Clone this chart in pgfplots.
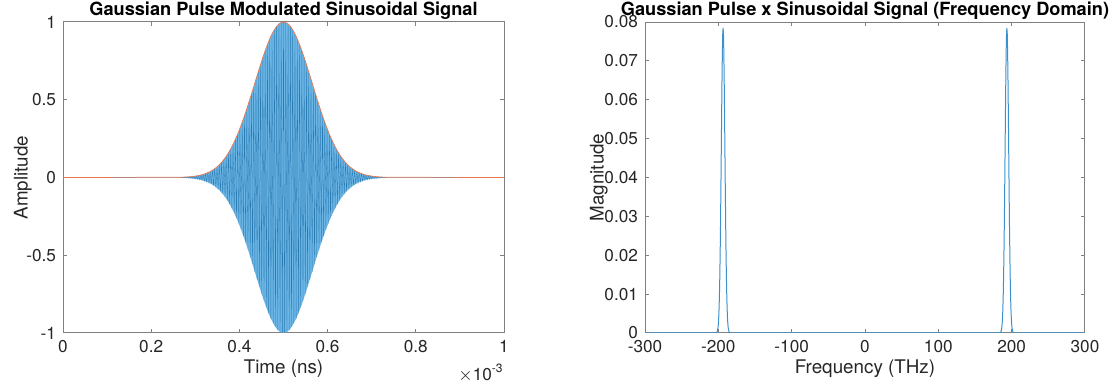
\documentclass[border=0pt]{standalone}
\usepackage{fontspec}
\setmainfont{TeX Gyre Heros}
\usepackage{pgfplots}
\usepackage{pgfplotstable}
\usepgfplotslibrary{fillbetween}
\pgfplotsset{compat=1.18}
\definecolor{mblue}{RGB}{40,122,178}
\definecolor{fblue}{RGB}{108,182,230}
\definecolor{lblue}{RGB}{60,145,205}
\definecolor{morange}{RGB}{230,120,80}
\definecolor{axgray}{RGB}{128,128,128}
\definecolor{txtgray}{RGB}{38,38,38}
\pgfplotsset{
  every axis title shift=0pt,
  mstyle/.style={
    scale only axis,
    scaled x ticks=false, scaled y ticks=false,
    axis line style={axgray, line width=0.5pt},
    tick style={axgray, line width=0.5pt},
    major tick length=2.2pt,
    tick align=inside,
    xtick pos=both, ytick pos=both,
    tick label style={font=\fontsize{8.6}{10}\selectfont, text=txtgray},
    label style={font=\fontsize{9.4}{11}\selectfont, text=txtgray},
    title style={font=\bfseries\fontsize{9.1}{11}\selectfont, at={(0.5,1)}, anchor=south, inner sep=1pt},
    xlabel style={at={(0.5,0)}, anchor=north, yshift=-13pt, inner sep=0pt},
    ylabel style={at={(0,0.5)}, anchor=south, inner sep=0pt},
  }
}
\pgfplotstableread{
t env
0 0
0.266 0.0015
0.2712 0.0021
0.2764 0.0027
0.2816 0.0036
0.2868 0.0047
0.292 0.0060
0.2972 0.0078
0.3024 0.0099
0.3076 0.0126
0.3128 0.0159
0.318 0.0200
0.3232 0.0249
0.3284 0.0308
0.3336 0.0380
0.3388 0.0464
0.344 0.0564
0.3492 0.0681
0.3544 0.0817
0.3596 0.0974
0.3648 0.1154
0.37 0.1358
0.3752 0.1588
0.3804 0.1845
0.3856 0.2130
0.3908 0.2444
0.396 0.2786
0.4012 0.3156
0.4064 0.3552
0.4116 0.3972
0.4168 0.4414
0.422 0.4873
0.4272 0.5347
0.4324 0.5828
0.4376 0.6312
0.4428 0.6793
0.448 0.7265
0.4532 0.7720
0.4584 0.8151
0.4636 0.8551
0.4688 0.8914
0.474 0.9232
0.4792 0.9502
0.4844 0.9717
0.4896 0.9873
0.4948 0.9968
0.5 1.0000
0.5052 0.9968
0.5104 0.9873
0.5156 0.9717
0.5208 0.9502
0.526 0.9232
0.5312 0.8914
0.5364 0.8551
0.5416 0.8151
0.5468 0.7720
0.552 0.7265
0.5572 0.6793
0.5624 0.6312
0.5676 0.5828
0.5728 0.5347
0.578 0.4873
0.5832 0.4414
0.5884 0.3972
0.5936 0.3552
0.5988 0.3156
0.604 0.2786
0.6092 0.2444
0.6144 0.2130
0.6196 0.1845
0.6248 0.1588
0.63 0.1358
0.6352 0.1154
0.6404 0.0974
0.6456 0.0817
0.6508 0.0681
0.656 0.0564
0.6612 0.0464
0.6664 0.0380
0.6716 0.0308
0.6768 0.0249
0.682 0.0200
0.6872 0.0159
0.6924 0.0126
0.6976 0.0099
0.7028 0.0078
0.708 0.0060
0.7132 0.0047
0.7184 0.0036
0.7236 0.0027
0.7288 0.0021
0.734 0.0015
1 0
}\envtable
\begin{document}
\begin{tikzpicture}
\begin{axis}[mstyle, name=leftax,
  at={(31.5pt,28.5pt)}, anchor=south west,
  width=220.5pt, height=155.5pt,
  xmin=0, xmax=1, ymin=-1, ymax=1,
  xtick={0,0.2,0.4,0.6,0.8,1}, xticklabels={0,0.2,0.4,0.6,0.8,1},
  ytick={-1,-0.5,0,0.5,1}, yticklabels={-1,-0.5,0,0.5,1},
  title={Gaussian Pulse Modulated Sinusoidal Signal},
  xlabel={Time (ns)}, ylabel={Amplitude},
  ylabel style={yshift=15.5pt},
]
\addplot[name path=up, draw=none, forget plot] table[x=t, y=env] {\envtable};
\addplot[name path=lo, draw=none, forget plot] table[x=t, y expr=-\thisrow{env}] {\envtable};
\addplot[fblue, draw=none] fill between[of=up and lo];
\addplot[mblue, line width=0.15pt] table {
0 0
0.266 0.0015
0.2686 -0.0018
0.2712 0.0021
0.2738 -0.0024
0.2764 0.0027
0.279 -0.0031
0.2816 0.0036
0.2842 -0.0041
0.2868 0.0047
0.2894 -0.0053
0.292 0.0060
0.2946 -0.0068
0.2972 0.0078
0.2998 -0.0088
0.3024 0.0099
0.305 -0.0112
0.3076 0.0126
0.3102 -0.0142
0.3128 0.0159
0.3154 -0.0178
0.318 0.0200
0.3206 -0.0223
0.3232 0.0249
0.3258 -0.0277
0.3284 0.0308
0.331 -0.0342
0.3336 0.0380
0.3362 -0.0420
0.3388 0.0464
0.3414 -0.0512
0.344 0.0564
0.3466 -0.0620
0.3492 0.0681
0.3518 -0.0746
0.3544 0.0817
0.357 -0.0893
0.3596 0.0974
0.3622 -0.1061
0.3648 0.1154
0.3674 -0.1253
0.37 0.1358
0.3726 -0.1469
0.3752 0.1588
0.3778 -0.1713
0.3804 0.1845
0.383 -0.1984
0.3856 0.2130
0.3882 -0.2284
0.3908 0.2444
0.3934 -0.2612
0.396 0.2786
0.3986 -0.2968
0.4012 0.3156
0.4038 -0.3351
0.4064 0.3552
0.409 -0.3759
0.4116 0.3972
0.4142 -0.4190
0.4168 0.4414
0.4194 -0.4641
0.422 0.4873
0.4246 -0.5108
0.4272 0.5347
0.4298 -0.5587
0.4324 0.5828
0.435 -0.6070
0.4376 0.6312
0.4402 -0.6553
0.4428 0.6793
0.4454 -0.7031
0.448 0.7265
0.4506 -0.7496
0.4532 0.7720
0.4558 -0.7939
0.4584 0.8151
0.461 -0.8355
0.4636 0.8551
0.4662 -0.8737
0.4688 0.8914
0.4714 -0.9079
0.474 0.9232
0.4766 -0.9374
0.4792 0.9502
0.4818 -0.9616
0.4844 0.9717
0.487 -0.9802
0.4896 0.9873
0.4922 -0.9928
0.4948 0.9968
0.4974 -0.9992
0.5 1.0000
0.5026 -0.9992
0.5052 0.9968
0.5078 -0.9928
0.5104 0.9873
0.513 -0.9802
0.5156 0.9717
0.5182 -0.9616
0.5208 0.9502
0.5234 -0.9374
0.526 0.9232
0.5286 -0.9079
0.5312 0.8914
0.5338 -0.8737
0.5364 0.8551
0.539 -0.8355
0.5416 0.8151
0.5442 -0.7939
0.5468 0.7720
0.5494 -0.7496
0.552 0.7265
0.5546 -0.7031
0.5572 0.6793
0.5598 -0.6553
0.5624 0.6312
0.565 -0.6070
0.5676 0.5828
0.5702 -0.5587
0.5728 0.5347
0.5754 -0.5108
0.578 0.4873
0.5806 -0.4641
0.5832 0.4414
0.5858 -0.4190
0.5884 0.3972
0.591 -0.3759
0.5936 0.3552
0.5962 -0.3351
0.5988 0.3156
0.6014 -0.2968
0.604 0.2786
0.6066 -0.2612
0.6092 0.2444
0.6118 -0.2284
0.6144 0.2130
0.617 -0.1984
0.6196 0.1845
0.6222 -0.1713
0.6248 0.1588
0.6274 -0.1469
0.63 0.1358
0.6326 -0.1253
0.6352 0.1154
0.6378 -0.1061
0.6404 0.0974
0.643 -0.0893
0.6456 0.0817
0.6482 -0.0746
0.6508 0.0681
0.6534 -0.0620
0.656 0.0564
0.6586 -0.0512
0.6612 0.0464
0.6638 -0.0420
0.6664 0.0380
0.669 -0.0342
0.6716 0.0308
0.6742 -0.0277
0.6768 0.0249
0.6794 -0.0223
0.682 0.0200
0.6846 -0.0178
0.6872 0.0159
0.6898 -0.0142
0.6924 0.0126
0.695 -0.0112
0.6976 0.0099
0.7002 -0.0088
0.7028 0.0078
0.7054 -0.0068
0.708 0.0060
0.7106 -0.0053
0.7132 0.0047
0.7158 -0.0041
0.7184 0.0036
0.721 -0.0031
0.7236 0.0027
0.7262 -0.0024
0.7288 0.0021
0.7314 -0.0018
0.734 0.0015
1 0
};
\addplot[morange, line width=0.35pt] table[x=t, y=env] {\envtable};
\end{axis}
\node[anchor=north east, inner sep=0pt, yshift=-15.5pt, font=\fontsize{8.6}{10}\selectfont, text=txtgray] at (leftax.south east) {$\times$10\textsuperscript{-3}};
\begin{axis}[mstyle,
  at={(322.5pt,28.5pt)}, anchor=south west,
  width=220pt, height=155.5pt,
  xmin=-300, xmax=300, ymin=0, ymax=0.08,
  xtick={-300,-200,-100,0,100,200,300}, xticklabels={-300,-200,-100,0,100,200,300},
  ytick={0,0.01,0.02,0.03,0.04,0.05,0.06,0.07,0.08},
  yticklabels={0,0.01,0.02,0.03,0.04,0.05,0.06,0.07,0.08},
  title={Gaussian Pulse x Sinusoidal Signal (Frequency Domain)},
  xlabel={Frequency (THz)}, ylabel={Magnitude},
  ylabel style={yshift=18.5pt},
]
\addplot[lblue, line width=0.5pt] table {
-300 0
-203.5 0
-202.5 0.00009
-201.5 0.00037
-200.5 0.00131
-200 0.0023
-199.5 0.00388
-199 0.00627
-198.5 0.00973
-198 0.01446
-197.5 0.0206
-197 0.0282
-196.5 0.0370
-196 0.0466
-195.5 0.0562
-195 0.0650
-194.5 0.0722
-194 0.0769
-193.5 0.0785
-193 0.0769
-192.5 0.0722
-192 0.0650
-191.5 0.0562
-191 0.0466
-190.5 0.0370
-190 0.0282
-189.5 0.0206
-189 0.01446
-188.5 0.00973
-188 0.00627
-187.5 0.00388
-187 0.0023
-186.5 0.00131
-185.5 0.00037
-184.5 0.00009
-183.5 0
183.5 0
184.5 0.00009
185.5 0.00037
186.5 0.00131
187 0.0023
187.5 0.00388
188 0.00627
188.5 0.00973
189 0.01446
189.5 0.0206
190 0.0282
190.5 0.0370
191 0.0466
191.5 0.0562
192 0.0650
192.5 0.0722
193 0.0769
193.5 0.0785
194 0.0769
194.5 0.0722
195 0.0650
195.5 0.0562
196 0.0466
196.5 0.0370
197 0.0282
197.5 0.0206
198 0.01446
198.5 0.00973
199 0.00627
199.5 0.00388
200 0.0023
200.5 0.00131
201.5 0.00037
202.5 0.00009
203.5 0
300 0
};
\end{axis}
\pgfresetboundingbox
\useasboundingbox (0,0) rectangle (556.5pt,195pt);
\end{tikzpicture}
\end{document}
